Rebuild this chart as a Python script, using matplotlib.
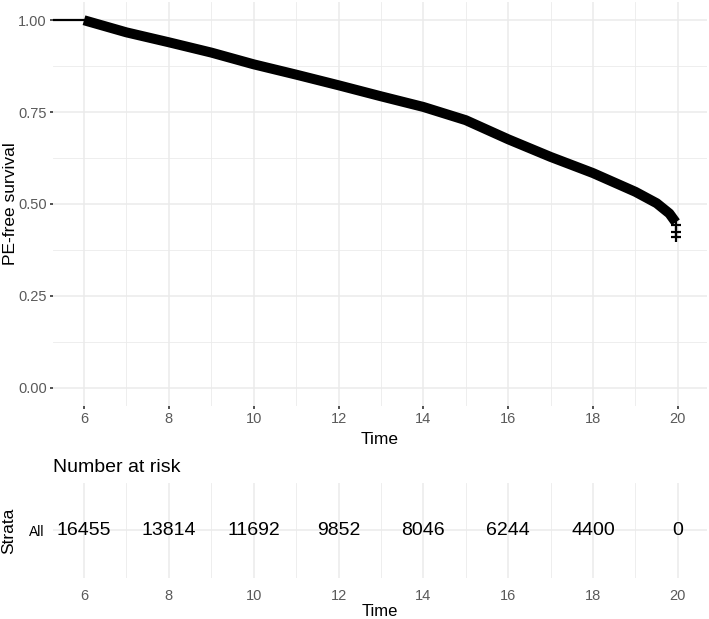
import matplotlib
matplotlib.use("Agg")
import matplotlib.pyplot as plt
from matplotlib.ticker import MultipleLocator

plt.rcParams["font.family"] = ["Liberation Sans", "DejaVu Sans"]

# survival curve
time_start = [5.3, 6.0]
surv_start = [1.0, 1.0]
times = [6.0, 7.0, 8.0, 9.0, 10.0, 11.0, 12.0, 13.0, 14.0, 15.0,
         16.0, 17.0, 18.0, 19.0, 19.5, 19.8, 19.95]
surv = [1.0, 0.967, 0.94, 0.912, 0.88, 0.852, 0.823, 0.793, 0.764, 0.728,
        0.676, 0.628, 0.584, 0.533, 0.502, 0.474, 0.45]
cens_time = [19.95, 19.95, 19.95]
cens_surv = [0.443, 0.424, 0.41]

# risk table
risk_times = [6, 8, 10, 12, 14, 16, 18, 20]
risk_counts = [16455, 13814, 11692, 9852, 8046, 6244, 4400, 0]

grid_major = "#EBEBEB"
text_gray = "#5A5A5A"
xlim = (5.27, 20.68)

fig = plt.figure(figsize=(7.09, 6.19), dpi=100)

ax = fig.add_axes([0.0748, 0.344, 0.922, 0.653])
ax.plot(time_start, surv_start, color="black", linewidth=1.6, zorder=3)
ax.plot(times, surv, color="black", linewidth=7.2, solid_capstyle="butt",
        solid_joinstyle="round", zorder=3)
ax.plot(cens_time, cens_surv, linestyle="none", marker="+", color="black",
        markersize=7, markeredgewidth=1.6, zorder=3)
ax.set_xlim(*xlim)
ax.set_ylim(-0.05, 1.05)
ax.xaxis.set_major_locator(MultipleLocator(2))
ax.xaxis.set_minor_locator(MultipleLocator(1))
ax.yaxis.set_minor_locator(MultipleLocator(0.125))
ax.set_yticks([0, 0.25, 0.5, 0.75, 1.0])
ax.set_yticklabels(["0.00", "0.25", "0.50", "0.75", "1.00"])
ax.grid(True, which="major", color=grid_major, linewidth=1.1)
ax.grid(True, which="minor", color=grid_major, linewidth=0.6)
ax.set_axisbelow(True)
for s in ax.spines.values():
    s.set_visible(False)
ax.tick_params(which="major", length=2.5, width=1.2, color="#333333",
               labelsize=10.5, labelcolor=text_gray, pad=2)
ax.tick_params(which="minor", length=0)
ax.set_xlabel("Time", fontsize=12.5, va="center")
ax.set_ylabel("PE-free survival", fontsize=12.5, va="center")
ax.xaxis.set_label_coords(0.5, -0.082)
ax.yaxis.set_label_coords(-0.065, 0.5)

# number at risk table
rt = fig.add_axes([0.0748, 0.066, 0.922, 0.154])
for t, n in zip(risk_times, risk_counts):
    rt.text(t, 0, str(n), ha="center", va="center", fontsize=14)
rt.set_xlim(*xlim)
rt.set_ylim(-0.5, 0.5)
rt.xaxis.set_major_locator(MultipleLocator(2))
rt.xaxis.set_minor_locator(MultipleLocator(1))
rt.set_yticks([0])
rt.set_yticklabels(["All"])
rt.grid(True, which="major", color=grid_major, linewidth=1.1)
rt.grid(True, which="minor", axis="x", color=grid_major, linewidth=0.6)
rt.set_axisbelow(True)
for s in rt.spines.values():
    s.set_visible(False)
rt.tick_params(axis="x", length=0, labelsize=10.5, labelcolor=text_gray, pad=8)
rt.tick_params(axis="y", length=0, labelsize=10, labelcolor="black", pad=6)
rt.tick_params(which="minor", length=0)
rt.set_xlabel("Time", fontsize=12, va="center")
rt.set_ylabel("Strata", fontsize=12.5, va="center")
rt.xaxis.set_label_coords(0.5, -0.35)
rt.yaxis.set_label_coords(-0.068, 0.5)
rt.set_title("Number at risk", loc="left", fontsize=14, pad=8, x=0.0)

fig.savefig("out.png", dpi=100)
